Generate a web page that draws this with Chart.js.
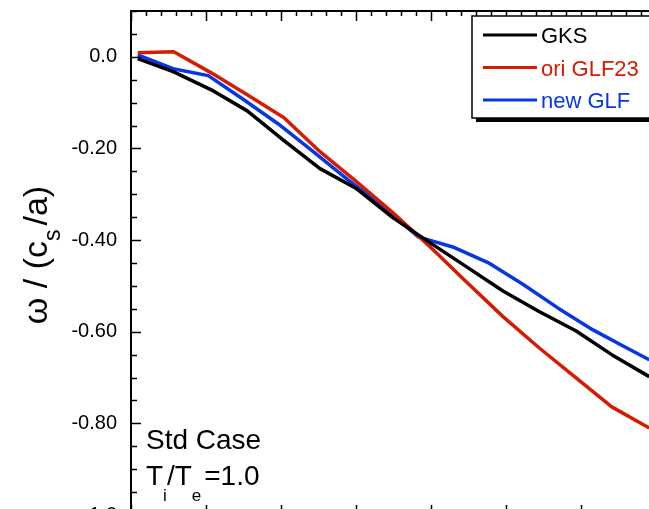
<!DOCTYPE html>
<html>
<head>
<meta charset="utf-8">
<title>GKS vs GLF23 frequency</title>
<style>
  html, body { margin: 0; padding: 0; overflow: hidden; background: #fff; }
  canvas { display: block; }
</style>
</head>
<body>
<canvas id="freq" width="730" height="560"></canvas>

<script src="https://cdn.jsdelivr.net/npm/chart.js@4/dist/chart.umd.min.js"></script>
<script>
  var FONT = '"Liberation Sans", Arial, Helvetica, sans-serif';

  // wavenumber grid (x) and real frequency omega/(cs/a) (y) for each code
  var kGKS = [0.09, 0.57, 1.07, 1.55, 2.04, 2.52, 3.01, 3.49, 3.99, 4.47, 4.96, 5.44, 5.93, 6.41, 6.91];
  var wGKS = [-0.004, -0.033, -0.072, -0.118, -0.183, -0.244, -0.288, -0.351, -0.406, -0.458, -0.511, -0.556, -0.598, -0.650, -0.698];

  var kOri = [0.09, 0.57, 1.07, 1.55, 2.04, 2.52, 3.01, 3.49, 3.99, 4.47, 4.96, 5.44, 5.93, 6.41, 6.91];
  var wOri = [0.009, 0.011, -0.035, -0.083, -0.133, -0.207, -0.273, -0.340, -0.415, -0.491, -0.567, -0.635, -0.700, -0.764, -0.810];

  var kNew = [0.09, 0.56, 1.03, 1.49, 1.96, 2.43, 2.89, 3.36, 3.83, 4.29, 4.76, 5.23, 5.69, 6.16, 6.63, 6.91];
  var wNew = [0.004, -0.026, -0.041, -0.092, -0.146, -0.207, -0.268, -0.327, -0.393, -0.415, -0.449, -0.497, -0.548, -0.596, -0.637, -0.661];

  var seriesNames = ['GKS', 'ori GLF23', 'new GLF'];
  var seriesColors = ['#000000', '#d41c00', '#0637e2'];

  var yTicks = [-1.0, -0.8, -0.6, -0.4, -0.2, 0.0];
  var yTickLabels = ['-1.0', '-0.80', '-0.60', '-0.40', '-0.20', '0.0'];

  function pairs(xs, ys) {
    var out = [];
    for (var i = 0; i < xs.length; i++) out.push({ x: xs[i], y: ys[i] });
    return out;
  }

  // text with a lowered subscript run: parts = [[text, isSub], ...]
  function drawRich(ctx, parts, x, y, size, subSize, subDrop) {
    var cx = x;
    parts.forEach(function (p) {
      if (p[0] === null) { cx += p[1]; return; }
      ctx.font = (p[1] ? subSize : size) + 'px ' + FONT;
      ctx.fillText(p[0], cx, p[1] ? y + subDrop : y);
      cx += ctx.measureText(p[0]).width;
    });
    return cx - x;
  }

  function richWidth(ctx, parts, size, subSize) {
    var w = 0;
    parts.forEach(function (p) {
      if (p[0] === null) { w += p[1]; return; }
      ctx.font = (p[1] ? subSize : size) + 'px ' + FONT;
      w += ctx.measureText(p[0]).width;
    });
    return w;
  }

  // frame, inward ticks, legend box and labels
  var decorations = {
    id: 'decorations',
    afterDraw: function (chart) {
      var ctx = chart.ctx;
      var a = chart.chartArea;
      var xs = chart.scales.x;
      var ys = chart.scales.y;

      ctx.save();
      ctx.strokeStyle = '#000';
      ctx.lineWidth = 2;
      ctx.strokeRect(a.left, a.top, a.right - a.left, a.bottom - a.top);

      ctx.lineWidth = 1.5;
      ctx.beginPath();
      for (var i = -20; i <= 2; i++) {
        var py = Math.round(ys.getPixelForValue(i * 0.05)) + 0.5;
        var len = (i % 4 === 0) ? 10 : 6;
        ctx.moveTo(a.left, py); ctx.lineTo(a.left + len, py);
        ctx.moveTo(a.right, py); ctx.lineTo(a.right - len, py);
      }
      for (var j = 0; j * 0.2 <= xs.max + 1e-9; j++) {
        var px = Math.round(xs.getPixelForValue(j * 0.2)) + 0.5;
        var l2 = (j % 5 === 0) ? 10 : 5;
        ctx.moveTo(px, a.top); ctx.lineTo(px, a.top + l2);
        ctx.moveTo(px, a.bottom); ctx.lineTo(px, a.bottom - l2);
      }
      ctx.stroke();

      // legend with drop shadow
      var lx = 472, ly = 16, lw = 300, lh = 102;
      ctx.fillStyle = '#000';
      ctx.fillRect(lx + 4, ly + 4, lw, lh);
      ctx.fillStyle = '#fff';
      ctx.fillRect(lx, ly, lw, lh);
      ctx.lineWidth = 1.5;
      ctx.strokeRect(lx, ly, lw, lh);

      ctx.textBaseline = 'alphabetic';
      ctx.textAlign = 'left';
      chart.data.datasets.forEach(function (ds, k) {
        var yy = 35 + k * 32.5;
        ctx.strokeStyle = ds.borderColor;
        ctx.lineWidth = 3;
        ctx.beginPath();
        ctx.moveTo(483, yy); ctx.lineTo(537, yy);
        ctx.stroke();
        ctx.fillStyle = ds.borderColor;
        ctx.font = '22px ' + FONT;
        ctx.fillText(ds.label, 541, yy + 8);
      });

      // case annotation
      ctx.fillStyle = '#000';
      ctx.font = '28px ' + FONT;
      ctx.fillText('Std Case', 146, 449);
      drawRich(ctx, [['T', false], ['i', true], ['/T', false], ['e', true], [null, 3], ['=1.0', false]],
        146, 485, 28, 17, 16);

      // y axis title, rotated
      var title = [['\u03c9 / (c', false], ['s', true], [null, 4], ['/a)', false]];
      var tw = richWidth(ctx, title, 34, 23);
      ctx.translate(47, 255);
      ctx.rotate(-Math.PI / 2);
      drawRich(ctx, title, -tw / 2, 0, 34, 23, 13);
      ctx.restore();
    }
  };

  function makeChart() {
    var datasets = [
      pairs(kGKS, wGKS),
      pairs(kOri, wOri),
      pairs(kNew, wNew)
    ].map(function (pts, i) {
      return {
        label: seriesNames[i],
        data: pts,
        borderColor: seriesColors[i],
        backgroundColor: seriesColors[i],
        borderWidth: 3.5,
        borderJoinStyle: 'round',
        pointRadius: 0,
        tension: 0,
        fill: false
      };
    });

    new Chart('freq', {
      type: 'line',
      data: { datasets: datasets },
      options: {
        responsive: false,
        animation: false,
        layout: { padding: { top: 11, right: 14, bottom: 45, left: 0 } },
        plugins: { legend: { display: false }, tooltip: { enabled: false } },
        scales: {
          x: { type: 'linear', min: 0, max: 7.8, display: false },
          y: {
            type: 'linear',
            min: -1.0,
            max: 0.1,
            afterFit: function (s) {
              s.width = 131;
              s.paddingTop = 0;
              s.paddingBottom = 0;
            },
            afterBuildTicks: function (s) {
              s.ticks = yTicks.map(function (v) { return { value: v }; });
            },
            ticks: {
              callback: function (v, i) { return yTickLabels[i]; },
              padding: 14,
              color: '#000',
              font: { family: FONT, size: 20 }
            },
            grid: { display: false, drawTicks: false },
            border: { display: false }
          }
        }
      },
      plugins: [decorations]
    });
  }

  window.onload = makeChart;
</script>
</body>
</html>
